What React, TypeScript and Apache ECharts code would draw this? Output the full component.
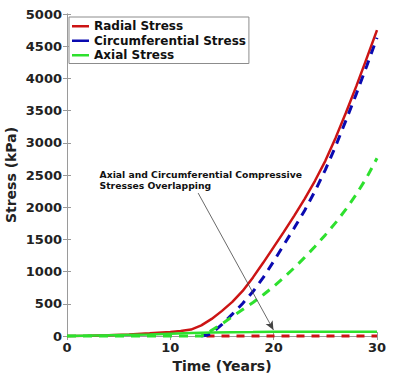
import React, { useEffect, useRef } from "react";
import * as echarts from "echarts";

const radialTime = [0, 2, 4, 6, 8, 10, 11, 12, 13, 14, 15, 16, 17, 18, 19, 20, 21, 22, 23, 24, 25, 26, 27, 28, 29, 30];
const radialValues = [0, 4, 12, 25, 42, 62, 78, 100, 165, 265, 390, 530, 700, 910, 1140, 1380, 1620, 1870, 2130, 2410, 2720, 3080, 3470, 3880, 4310, 4750];

const circTime = [13, 13.5, 14, 15, 16, 17, 18, 19, 20, 21, 22, 23, 24, 25, 26, 27, 28, 29, 30];
const circValues = [0, 10, 40, 180, 340, 505, 690, 910, 1160, 1420, 1680, 1950, 2250, 2580, 2950, 3350, 3760, 4190, 4630];

const axialTime = [0, 13, 13.5, 14, 15, 16, 17, 18, 19, 20, 21, 22, 23, 24, 25, 26, 27, 28, 29, 30];
const axialValues = [0, 0, 30, 90, 190, 300, 410, 520, 640, 770, 910, 1060, 1220, 1390, 1570, 1760, 1970, 2200, 2460, 2760];

const axialCompTime = [0, 4, 8, 10, 12, 14, 16, 18, 20, 22, 26, 30];
const axialCompValues = [0, 10, 25, 35, 45, 55, 60, 62, 65, 65, 65, 65];

const circCompTime = [13.5, 30];
const circCompValues = [0, 0];

const arrowFrom = [12.69, 2220];
const arrowTo = [19.98, 93];

const xTicks = [0, 10, 20, 30];
const yTicks = [0, 500, 1000, 1500, 2000, 2500, 3000, 3500, 4000, 4500, 5000];

const legendNames = ["Radial Stress", "Circumferential Stress", "Axial Stress"];
const annotationLines = ["Axial and Circumferential Compressive", "Stresses Overlapping"];

const zip = (t: number[], v: number[]) => t.map((x, i) => [x, v[i]]);

const RED = "#cc1414";
const BLUE = "#0a0ab0";
const GREEN = "#2ee02e";
const FONT = "DejaVu Sans";
const AXIS_GRAY = "#9a9a9a";

export default function App() {
  const ref = useRef<HTMLDivElement>(null);
  useEffect(() => {
    document.body.style.margin = "0";
    const chart = echarts.init(ref.current!, null, { renderer: "svg" });
    const baseX = {
      type: "value" as const,
      min: xTicks[0],
      max: xTicks[xTicks.length - 1],
      interval: 10,
      splitLine: { show: false },
      axisLine: { show: true, lineStyle: { color: AXIS_GRAY, width: 1 } },
      axisTick: { show: true, inside: true, length: 4, lineStyle: { color: AXIS_GRAY } },
    };
    const baseY = {
      type: "value" as const,
      min: yTicks[0],
      max: yTicks[yTicks.length - 1],
      interval: 500,
      splitLine: { show: false },
      axisLine: { show: true, lineStyle: { color: AXIS_GRAY, width: 1 } },
      axisTick: { show: true, inside: true, length: 4, lineStyle: { color: AXIS_GRAY } },
    };
    chart.setOption({
      animation: false,
      grid: { left: 67, right: 23, top: 14, bottom: 44, containLabel: false, outerBoundsMode: "none" },
      textStyle: { fontFamily: FONT },
      legend: {
        orient: "vertical",
        left: 69,
        top: 17,
        padding: [2, 3, 1, 3],
        itemGap: 0,
        itemWidth: 17,
        itemHeight: 2.5,
        icon: "rect",
        backgroundColor: "#fff",
        borderColor: "#8c8c8c",
        borderWidth: 1,
        textStyle: { fontFamily: FONT, fontWeight: "bold", fontSize: 12, color: "#111", lineHeight: 14.5 },
        data: legendNames,
      },
      xAxis: [
        {
          ...baseX,
          position: "bottom",
          name: "Time (Years)",
          nameLocation: "middle",
          nameGap: 22,
          nameTextStyle: { fontFamily: FONT, fontWeight: "bold", fontSize: 14, color: "#222" },
          axisLabel: { margin: 5, fontFamily: FONT, fontWeight: "bold", fontSize: 13, color: "#222", formatter: (v: number) => String(v) },
        },
        { ...baseX, position: "top", axisLabel: { show: false } },
      ],
      yAxis: [
        {
          ...baseY,
          position: "left",
          name: "Stress (kPa)",
          nameLocation: "middle",
          nameGap: 49,
          nameMoveOverlap: false,
          nameTextStyle: { fontFamily: FONT, fontWeight: "bold", fontSize: 14, color: "#222" },
          axisLabel: { margin: 5, fontFamily: FONT, fontWeight: "bold", fontSize: 13, color: "#222", formatter: (v: number) => String(v) },
        },
        { ...baseY, position: "right", axisLabel: { show: false } },
      ],
      series: [
        {
          name: "Circumferential Compressive",
          type: "line",
          data: zip(circCompTime, circCompValues),
          symbol: "none",
          clip: false,
          lineStyle: { color: RED, width: 3, type: [8, 7] },
          z: 1,
        },
        {
          name: "Radial Stress",
          type: "line",
          data: zip(radialTime, radialValues),
          symbol: "none",
          clip: false,
          itemStyle: { color: RED },
          lineStyle: { color: RED, width: 2.5 },
          z: 2,
        },
        {
          name: "Circumferential Stress",
          type: "line",
          data: zip(circTime, circValues),
          symbol: "none",
          clip: false,
          itemStyle: { color: BLUE },
          lineStyle: { color: BLUE, width: 3, type: [9, 7] },
          z: 3,
        },
        {
          name: "Axial Stress",
          type: "line",
          data: zip(axialTime, axialValues),
          symbol: "none",
          clip: false,
          itemStyle: { color: GREEN },
          lineStyle: { color: GREEN, width: 3, type: [9, 7] },
          z: 4,
        },
        {
          name: "Axial Compressive",
          type: "line",
          data: zip(axialCompTime, axialCompValues),
          symbol: "none",
          clip: false,
          lineStyle: { color: GREEN, width: 2.5 },
          z: 5,
          markLine: {
            silent: true,
            symbol: ["none", "arrow"],
            symbolSize: [6, 9],
            label: { show: false },
            lineStyle: { color: "#444", width: 0.8, type: "solid" },
            data: [[{ coord: arrowFrom }, { coord: arrowTo }]],
          },
        },
      ],
      graphic: [
        {
          type: "text",
          right: 98,
          top: 169,
          style: {
            text: annotationLines.join("\n"),
            align: "right",
            font: `bold 9.25px "${FONT}"`,
            lineHeight: 11,
            fill: "#111",
          },
        },
      ],
    });
    return () => chart.dispose();
  }, []);
  return <div ref={ref} style={{ width: 400, height: 380 }} />;
}
